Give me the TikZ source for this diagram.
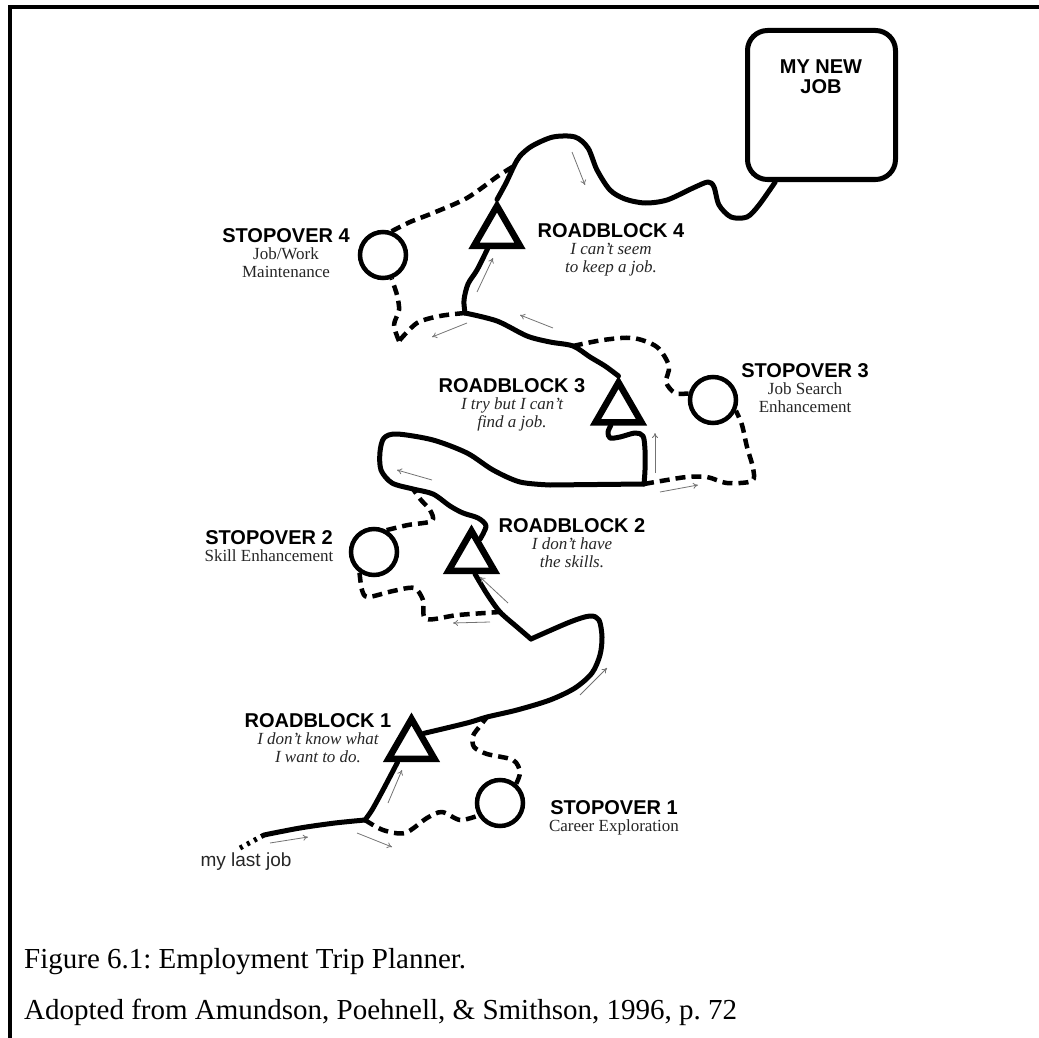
\documentclass[tikz,border=0pt]{standalone}
\usepackage{fontspec}
\setmainfont{Liberation Serif}
\setsansfont{Liberation Sans}
\usetikzlibrary{shapes.geometric,arrows.meta}
\newcommand{\headfont}{\fontsize{20}{20}\selectfont\sffamily\bfseries\upshape\color{black}}

\begin{document}
\begin{tikzpicture}[x=1pt, y=-1pt,
    stop/.style={circle, draw, fill=white, line width=4.5pt, minimum size=46pt, inner sep=0pt},
    block/.style={regular polygon, regular polygon sides=3, draw, fill=white,
                  line width=6.5pt, minimum size=53pt, inner sep=0pt},
    goal/.style={rectangle, draw, fill=white, rounded corners=20pt, line width=5pt,
                 minimum width=148pt, minimum height=149pt},
    lab/.style={anchor=north, align=center, inner sep=0pt, text=black!85,
                font=\fontsize{17}{17.5}\selectfont},
    labit/.style={lab, font=\fontsize{17}{17.5}\selectfont\itshape},
    road/.style={line width=5pt, line cap=round, line join=round},
    side/.style={line width=4.5pt, dash pattern=on 10pt off 6pt, line join=round},
    flow/.style={-{To[length=5pt, width=6pt]}, line width=0.8pt, draw=black!55},
    captext/.style={anchor=base west, inner sep=0pt, font=\fontsize{29}{29}\selectfont\frenchspacing}
]
    \useasboundingbox (0,0) rectangle (1039,1038);
    \draw[line width=3.5pt] (1039,7) -- (10,7) -- (10,1038);

    \node[block] (rb1) at (411.5,745.5) {};
    \node[block] (rb2) at (471.5,557.5) {};
    \node[block] (rb3) at (618.5,409) {};
    \node[block] (rb4) at (497,232.5) {};
    \node[stop] (so1) at (500,803) {};
    \node[stop] (so2) at (374,552) {};
    \node[stop] (so3) at (713,400) {};
    \node[stop] (so4) at (383,255) {};
    \node[goal] (newjob) at (821.5,105) {};
    \node[anchor=north, align=center, inner sep=0pt, font=\headfont] (newjobtxt) at (821,60) {MY NEW\\JOB};

    \coordinate (start) at (240,848);
    \coordinate (fork1) at (365,820);
    \coordinate (join1) at (487,717);
    \coordinate (fork2) at (500,612);
    \coordinate (join2) at (413,489);
    \coordinate (fork3) at (644,484);
    \coordinate (join3) at (573,346);
    \coordinate (fork4) at (465,313);
    \coordinate (join4) at (514,166);

    \draw[road, line cap=butt, dash pattern=on 3pt off 5pt] (start) -- (264,835);
    \draw[road] plot[smooth, tension=.5] coordinates {(264,835) (300,828) (335,823) (fork1)};
    \draw[road] plot[smooth, tension=.5] coordinates {(fork1) (372,810) (383,790) (rb1.-130)};
    \draw[road] plot[smooth, tension=.5] coordinates {(rb1.45) (467,723) (join1) (517,710) (550,700)
        (575,688) (592,673) (600,655) (602,637) (599,620) (590,616) (570,622) (531,639)};
    \draw[road] plot[smooth, tension=.5] coordinates {(531,639) (517,627) (fork2) (487,594) (rb2.-78)};
    \draw[road] plot[smooth, tension=.5] coordinates {(rb2.65) (486,526) (478,518) (463,513) (450,506)
        (433,494) (join2) (392,483) (381,470) (380,452) (384,438) (397,434) (433,440) (467,453)
        (493,470) (520,482) (550,485)} -- (fork3);
    \draw[road] plot[smooth, tension=.5] coordinates {(fork3) (645,470) (645,450) (643,436) (635,433)
        (620,437) (610,438) (608,432) (rb3.-115)};
    \draw[road] plot[smooth, tension=.5] coordinates {(rb3.north) (605,366) (590,357) (join3) (550,342)
        (527,336) (497,321) (fork4)};
    \draw[road] plot[smooth, tension=.5] coordinates {(fork4) (464,300) (468,284) (477,270) (rb4.-120)};
    \draw[road] plot[smooth, tension=.5] coordinates {(rb4.north) (506,183) (join4) (520,156) (532,146)
        (553,137) (575,137) (588,148) (597,170) (610,190) (625,199) (645,203) (667,200) (693,188)
        (708,182) (714,187) (719,205) (731,217) (747,217) (759,205) (newjob.-121)};

    \draw[side] plot[smooth, tension=.5] coordinates {(fork1) (383,830) (405,833) (427,818) (442,812)
        (460,820) (so1.210)};
    \draw[side] plot[smooth, tension=.5] coordinates {(so1.50) (520,772) (513,760) (487,754) (474,747)
        (473,736) (480,726) (join1)};
    \draw[side] plot[smooth, tension=.5] coordinates {(so2.60) (408,525) (432,521) (430,510) (421,500)
        (join2)};
    \draw[side] plot[smooth, tension=.5] coordinates {(so2.235) (362,590) (368,597) (393,591) (414,588)
        (423,600) (426,619) (458,615) (fork2)};
    \draw[side] plot[smooth, tension=.5] coordinates {(fork3) (667,480) (687,477) (707,477) (727,483)
        (752,481) (753,468) (747,447) (742,425) (so3.-25)};
    \draw[side] plot[smooth, tension=.5] coordinates {(so3.165) (675,393) (666,382) (669,366) (657,347)
        (633,338) (603,340) (join3)};
    \draw[side] plot[smooth, tension=.5] coordinates {(fork4) (440,316) (417,323) (399,341)};
    \draw[side] plot[smooth, tension=.5] coordinates {(399,341) (394,325) (399,310) (397,295) (so4.-70)};
    \draw[side] plot[smooth, tension=.5] coordinates {(so4.70) (410,222) (433,213) (467,198) (498,176)
        (join4)};

    \draw[flow] (270,843) -- (308,837);
    \draw[flow] (357,833) -- (392,847);
    \draw[flow] (388,803) -- (402,770);
    \draw[flow] (580,695) -- (607,668);
    \draw[flow] (508,603) -- (480,577);
    \draw[flow] (490,622) -- (453,623);
    \draw[flow] (432,480) -- (397,470);
    \draw[flow] (660,492) -- (698,485);
    \draw[flow] (655,473) -- (655,433);
    \draw[flow] (553,328) -- (520,315);
    \draw[flow] (467,323) -- (432,337);
    \draw[flow] (477,292) -- (493,258);
    \draw[flow] (572,152) -- (585,185);

    \node[lab] (so1lab) at (614,800) {{\headfont STOPOVER 1}\\Career Exploration};
    \node[lab] (so2lab) at (269,530) {{\headfont STOPOVER 2}\\Skill Enhancement};
    \node[lab] (so3lab) at (805,363) {{\headfont STOPOVER 3}\\Job Search\\Enhancement};
    \node[lab] (so4lab) at (286,228) {{\headfont STOPOVER 4}\\Job/Work\\Maintenance};
    \node[labit] (rb1lab) at (318,713) {{\headfont ROADBLOCK 1}\\I don't know what\\I want to do.};
    \node[labit] (rb2lab) at (572,518) {{\headfont ROADBLOCK 2}\\I don't have\\the skills.};
    \node[labit] (rb3lab) at (512,378) {{\headfont ROADBLOCK 3}\\I try but I can't\\find a job.};
    \node[labit] (rb4lab) at (611,223) {{\headfont ROADBLOCK 4}\\I can't seem\\to keep a job.};
    \node[inner sep=0pt, text=black!85, font=\fontsize{19}{19}\selectfont\sffamily] (lastjob) at (246,862) {my last job};

    \node[captext] (cap1) at (24,968) {Figure 6.1: Employment Trip Planner.};
    \node[captext] (cap2) at (24,1019) {Adopted from Amundson, Poehnell, \& Smithson, 1996, p. 72};
\end{tikzpicture}
\end{document}
